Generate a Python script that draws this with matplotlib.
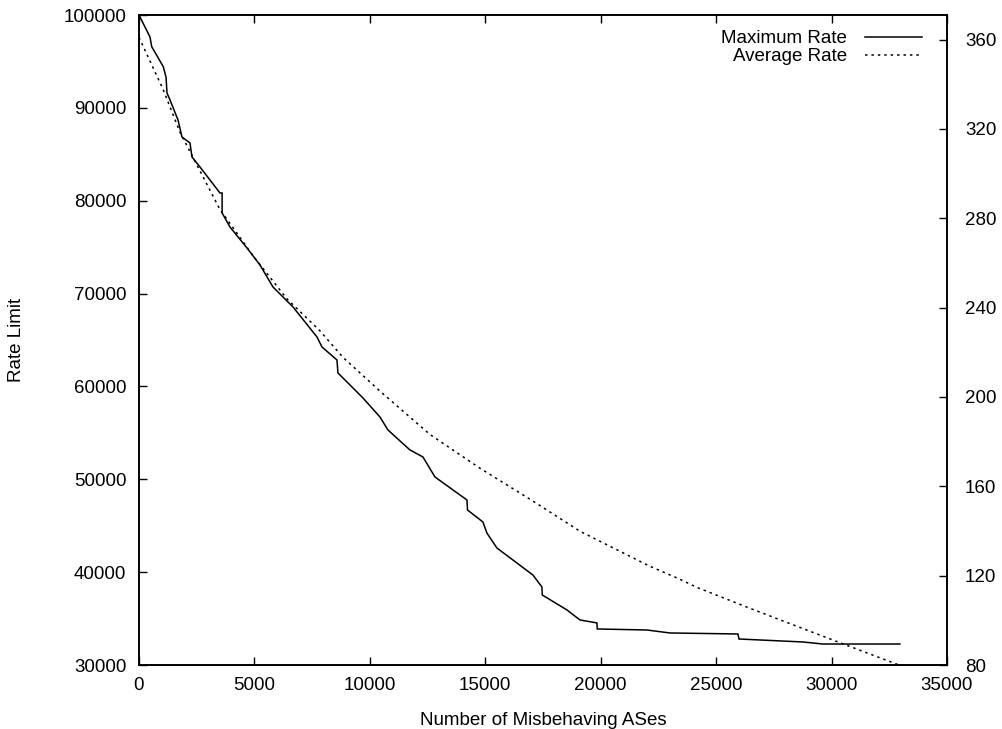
import matplotlib
matplotlib.use("Agg")
import matplotlib.pyplot as plt
from matplotlib.lines import Line2D

plt.rcParams['font.family'] = ['Liberation Sans', 'DejaVu Sans']

# Maximum Rate (left axis)
max_x = [0, 476, 550, 1052, 1170, 1213, 1343, 1690, 1862, 2209, 2295, 2642, 3508, 3600, 3600,
         3941, 4677, 5240, 5803, 6670, 7709, 7925, 8575, 8618, 9701, 10437, 10784, 11737,
         12300, 12820, 14206, 14230, 14898, 15071, 15504, 17064, 17453, 17470, 18536, 19099,
         19835, 19850, 22001, 22997, 25943, 25990, 28757, 29623, 32958]
max_y = [100000, 97630, 96590, 94430, 93320, 91600, 90850, 88690, 86860, 86220, 84710, 83630,
         80830, 80830, 78680, 77170, 74910, 73080, 70710, 68560, 65330, 64250, 62850, 61450,
         58760, 56710, 55310, 53160, 52400, 50250, 47770, 46690, 45400, 44210, 42600, 39690,
         38400, 37540, 35930, 34850, 34530, 33880, 33770, 33450, 33340, 32800, 32480, 32260,
         32260]

# Average Rate (right axis)
avg_x = [0, 1040, 1775, 3508, 5000, 6410, 7839, 8848, 10440, 12603, 14770, 17077, 19100,
         19965, 22130, 23430, 24153, 26460, 30230, 32870]
avg_y = [361, 337.8, 318.5, 283.9, 262.4, 243.9, 229.6, 217.6, 202.6, 183.2, 168.1, 153.3,
         139.9, 135.4, 124.2, 118.4, 114.8, 105.4, 90.5, 80.2]

xticks = [0, 5000, 10000, 15000, 20000, 25000, 30000, 35000]
yticks_left = [30000, 40000, 50000, 60000, 70000, 80000, 90000, 100000]
yticks_right = [80, 120, 160, 200, 240, 280, 320, 360]

FS = 13.5
fig = plt.figure(figsize=(10.03, 7.29), dpi=100)
ax = fig.add_axes([139/1003, 64/729, 808/1003, 650/729])
ax2 = ax.twinx()

ax.plot(max_x, max_y, color='black', lw=1.1, solid_joinstyle='miter')
ax2.plot(avg_x, avg_y, color='black', lw=1.1, linestyle=(0, (1.6, 2.6)))

ax.set_xlim(0, 35000)
ax.set_ylim(30000, 100000)
ax2.set_ylim(80, 371)

ax.set_xticks(xticks)
ax.set_xticklabels([str(v) for v in xticks])
ax.set_yticks(yticks_left)
ax.set_yticklabels([str(v) for v in yticks_left])
ax2.set_yticks(yticks_right)
ax2.set_yticklabels([str(v) for v in yticks_right])

ax.tick_params(axis='x', direction='in', length=6, width=1, labelsize=FS, pad=9,
               top=True, bottom=True)
ax.tick_params(axis='y', direction='in', length=6, width=1, labelsize=FS, pad=9,
               left=True, right=False)
ax2.tick_params(axis='y', direction='in', length=6, width=1, labelsize=FS, pad=13,
                right=True, left=False)

for a in (ax, ax2):
    for s in a.spines.values():
        s.set_linewidth(1.2)

ax.set_xlabel('Number of Misbehaving ASes', fontsize=FS)
ax.set_ylabel('Rate Limit', fontsize=FS)
ax.xaxis.set_label_coords(0.5, -0.072)
ax.yaxis.set_label_coords(-0.141, 0.5)

handles = [Line2D([], [], color='black', lw=1.1),
           Line2D([], [], color='black', lw=1.1, linestyle=(0, (1.6, 2.6)))]
ax.legend(handles, ['Maximum Rate', 'Average Rate'], loc='upper right',
          bbox_to_anchor=(0.969, 0.977), frameon=False, markerfirst=False,
          handlelength=3.05, handletextpad=0.95, labelspacing=0.05, borderpad=0,
          borderaxespad=0, fontsize=FS)

fig.savefig('out.png', dpi=100)
